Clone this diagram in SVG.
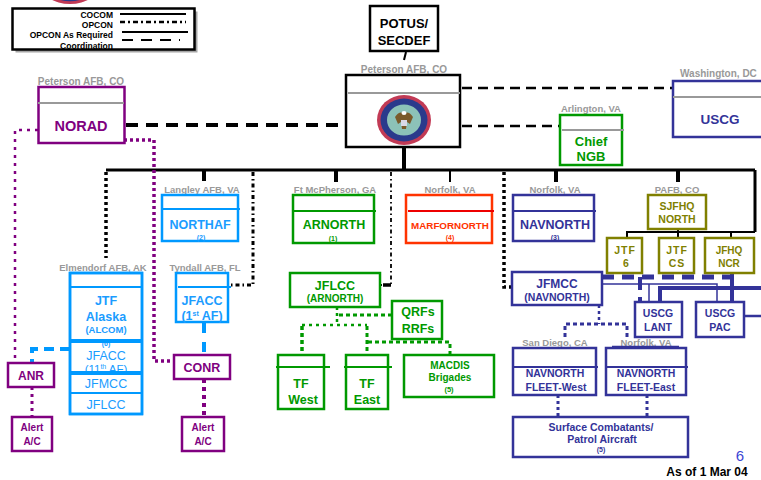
<svg xmlns="http://www.w3.org/2000/svg" width="761" height="480" viewBox="0 0 761 480">
<style>
text{font-family:"Liberation Sans",Arial,sans-serif;font-weight:bold;text-anchor:middle}
.loc{fill:#999;font-size:9.5px}
.box{fill:#fff;stroke-width:2.5}
.blk{stroke:#000}
.pur{stroke:#800080}.tpur{fill:#800080}
.lb{stroke:#0099ff}.tlb{fill:#1a9cff}
.grn{stroke:#009900}.tgrn{fill:#009900}
.red{stroke:#ff3300}.tred{fill:#ff3300}
.nav{stroke:#333399}.tnav{fill:#333399}
.olv{stroke:#808000}.tolv{fill:#808000}
.div{stroke-width:2}
.gdiv{stroke:#999;stroke-width:2}
.c{fill:none}
</style>
<defs>
<g id="sealart">
<ellipse rx="27" ry="25" fill="#c23a55"/>
<ellipse rx="23.5" ry="21.5" fill="#2a3a8c"/>
<ellipse rx="17" ry="15.5" fill="#8cc2b8"/>
<path d="M-9,-3 Q-4,-10 0,-6 Q4,-10 9,-3 L6,4 L3,2 L2,9 L-2,9 L-3,2 L-6,4 Z" fill="#7a5a2a"/>
<ellipse cy="-7" rx="2.5" ry="2" fill="#fff"/>
<rect x="-3" y="0" width="6" height="6" fill="#d9d9e8"/>
</g>
</defs>
<rect width="761" height="480" fill="#fff"/>

<g id="top-seal"><use href="#sealart" transform="translate(70,-16) scale(1.1,0.8)"/></g>

<g id="legend">
<rect x="15.5" y="11.5" width="182" height="41" fill="#a6a6a6"/>
<rect x="12.5" y="8.5" width="182" height="41" fill="#fff"/>
<text x="113" y="17.5" style="font-size:8.5px;text-anchor:end">COCOM</text>
<text x="113" y="27.5" style="font-size:8.5px;text-anchor:end">OPCON</text>
<text x="113" y="37.5" style="font-size:8.5px;text-anchor:end">OPCON As Required</text>
<text x="113" y="48.5" style="font-size:8.5px;text-anchor:end">Coordination</text>
<line x1="120" y1="14" x2="186" y2="14" stroke="#000" stroke-width="2"/>
<line x1="120" y1="22" x2="186" y2="22" stroke="#000" stroke-width="2.5" stroke-dasharray="5,3,2,3"/>
<line x1="122" y1="32" x2="188" y2="32" stroke="#000" stroke-width="2"/>
<line x1="122" y1="40" x2="180" y2="40" stroke="#000" stroke-width="2" stroke-dasharray="11,8"/>
<rect x="12.5" y="8.5" width="182" height="41" fill="none" stroke="#000" stroke-width="2.5"/>
</g>

<g id="connectors" fill="none">
<line x1="406" y1="52" x2="404" y2="60" stroke="#000" stroke-width="2"/>
<line x1="126" y1="125" x2="345" y2="125" stroke="#000" stroke-width="4" stroke-dasharray="12,8"/>
<line x1="462" y1="126" x2="559" y2="126" stroke="#000" stroke-width="2.5" stroke-dasharray="10,6"/>
<line x1="462" y1="88" x2="673" y2="88" stroke="#000" stroke-width="2.5" stroke-dasharray="10,6"/>
<line x1="404" y1="147" x2="404" y2="170" stroke="#000" stroke-width="4"/>
<line x1="106" y1="170" x2="755" y2="170" stroke="#000" stroke-width="3"/>
<line x1="204" y1="170" x2="204" y2="181" stroke="#000" stroke-width="4"/>
<line x1="336" y1="170" x2="336" y2="182" stroke="#000" stroke-width="4"/>
<line x1="450" y1="170" x2="450" y2="182" stroke="#000" stroke-width="2"/>
<line x1="556" y1="170" x2="556" y2="182" stroke="#000" stroke-width="4"/>
<line x1="678" y1="170" x2="678" y2="182" stroke="#000" stroke-width="4"/>
<line x1="755" y1="170" x2="755" y2="232" stroke="#000" stroke-width="3"/>
<polyline points="627,238 627,232 755,232" stroke="#000" stroke-width="2"/>
<line x1="678" y1="229" x2="678" y2="238" stroke="#000" stroke-width="2"/>
<line x1="731" y1="232" x2="731" y2="238" stroke="#000" stroke-width="2"/>
<line x1="106" y1="172" x2="106" y2="258" stroke="#000" stroke-width="3.5" stroke-dasharray="3,3"/>
<polyline points="253,172 253,285 230,285" stroke="#000" stroke-width="3" stroke-dasharray="4,3,1.5,3"/>
<polyline points="391,172 391,285 381,285" stroke="#000" stroke-width="1.8" stroke-dasharray="4,3,1.5,3"/>
<line x1="383" y1="285" x2="391" y2="285" stroke="#000" stroke-width="3.5"/>
<polyline points="504,172 504,287 511,287" stroke="#000" stroke-width="3.5" stroke-dasharray="3,3"/>
<polyline points="38,130 15,130 15,363" stroke="#800080" stroke-width="2.5" stroke-dasharray="3,5"/>
<polyline points="124,140 154,140 154,361 174,361" stroke="#800080" stroke-width="3.5" stroke-dasharray="3,3"/>
<line x1="32" y1="387" x2="32" y2="417" stroke="#800080" stroke-width="3" stroke-dasharray="3,4"/>
<line x1="204" y1="379" x2="204" y2="417" stroke="#800080" stroke-width="4" stroke-dasharray="4,4"/>
<polyline points="70,349 32,349 32,363" stroke="#0099ff" stroke-width="4" stroke-dasharray="10,6"/>
<line x1="204" y1="323" x2="204" y2="355" stroke="#0099ff" stroke-width="4" stroke-dasharray="10,9"/>
<polyline points="337,307 337,325" stroke="#009900" stroke-width="2.5" stroke-dasharray="3,3"/>
<line x1="302" y1="325" x2="367" y2="325" stroke="#009900" stroke-width="2.5" stroke-dasharray="3,4"/>
<line x1="302" y1="326" x2="302" y2="355" stroke="#009900" stroke-width="3.5" stroke-dasharray="4,3"/>
<line x1="367" y1="326" x2="367" y2="355" stroke="#009900" stroke-width="3" stroke-dasharray="4,3"/>
<line x1="339" y1="315" x2="392" y2="315" stroke="#009900" stroke-width="3" stroke-dasharray="4,3"/>
<polyline points="368,342 450,342 450,355" stroke="#009900" stroke-width="3" stroke-dasharray="4,3"/>
<line x1="599" y1="305" x2="599" y2="324" stroke="#333399" stroke-width="2.5" stroke-dasharray="3,3"/>
<polyline points="565,337 565,324 627,324 627,337" stroke="#333399" stroke-width="3" stroke-dasharray="4,3"/>
<line x1="558" y1="395" x2="558" y2="417" stroke="#333399" stroke-width="3" stroke-dasharray="3,3"/>
<line x1="647" y1="395" x2="647" y2="417" stroke="#333399" stroke-width="3" stroke-dasharray="3,3"/>
<line x1="602" y1="277" x2="731" y2="277" stroke="#333399" stroke-width="5" stroke-dasharray="12,8"/>
<polyline points="602,284 717,284 717,302" stroke="#333399" stroke-width="1.5"/>
<line x1="649" y1="284" x2="649" y2="302" stroke="#333399" stroke-width="1.5"/>
<line x1="640" y1="277" x2="640" y2="302" stroke="#333399" stroke-width="4" stroke-dasharray="13,7"/>
<polyline points="660,302 660,288 761,288" stroke="#333399" stroke-width="4"/>
<line x1="732" y1="273" x2="732" y2="302" stroke="#333399" stroke-width="4"/>
<line x1="744" y1="316" x2="761" y2="316" stroke="#333399" stroke-width="2.5"/>
</g>

<g id="potus">
<rect x="370" y="6" width="68" height="45" class="box blk"/>
<text x="404" y="28" style="font-size:13px">POTUS/</text>
<text x="404" y="45" style="font-size:13px">SECDEF</text>
</g>

<g id="norad">
<text x="81" y="85" class="loc" style="font-size:10px">Peterson AFB, CO</text>
<rect x="38.5" y="87" width="86" height="56" class="box pur"/>
<line x1="38" y1="103" x2="124" y2="103" class="gdiv"/>
<text x="81" y="131" class="tpur" style="font-size:14.5px">NORAD</text>
</g>

<g id="usnorthcom">
<text x="404" y="73" class="loc" style="font-size:10px">Peterson AFB, CO</text>
<rect x="346" y="75" width="114" height="72" class="box blk"/>
<line x1="348" y1="93" x2="460" y2="93" class="gdiv"/>
<use href="#sealart" transform="translate(404,120)"/>
</g>

<g id="chief-ngb">
<text x="591" y="112" class="loc">Arlington, VA</text>
<rect x="560" y="115" width="62" height="50" class="box grn"/>
<line x1="562" y1="130" x2="624" y2="130" class="gdiv"/>
<text x="591" y="146" class="tgrn" style="font-size:13px">Chief</text>
<text x="591" y="161" class="tgrn" style="font-size:13px">NGB</text>
</g>

<g id="uscg">
<text x="680" y="77" class="loc" style="text-anchor:start;font-size:10px">Washington, DC</text>
<rect x="673" y="81" width="100" height="56" class="box nav"/>
<line x1="673" y1="97" x2="761" y2="97" class="gdiv"/>
<text x="720" y="124" class="tnav" style="font-size:13.5px">USCG</text>
</g>

<g id="northaf">
<text x="202" y="193" class="loc">Langley AFB, VA</text>
<rect x="162" y="195" width="76" height="46" class="box lb"/>
<line x1="162" y1="209" x2="240" y2="209" class="lb div"/>
<text x="200" y="229" class="tlb" style="font-size:12.5px">NORTHAF</text>
<text x="201" y="240" class="tlb" style="font-size:7px">(2)</text>
</g>

<g id="arnorth">
<text x="335" y="193" class="loc">Ft McPherson, GA</text>
<rect x="293" y="195" width="81" height="48" class="box grn"/>
<line x1="293" y1="211" x2="376" y2="211" class="grn div"/>
<text x="334" y="229" class="tgrn" style="font-size:12.5px">ARNORTH</text>
<text x="333" y="241" class="tgrn" style="font-size:7px">(1)</text>
</g>

<g id="marfornorth">
<text x="450" y="193" class="loc">Norfolk, VA</text>
<rect x="406" y="195" width="86" height="48" class="box red"/>
<line x1="408" y1="211" x2="494" y2="211" class="red div" style="stroke:#ee0000"/>
<text x="450" y="229" class="tred" style="font-size:9.8px">MARFORNORTH</text>
<text x="450" y="240" class="tred" style="font-size:7px">(4)</text>
</g>

<g id="navnorth">
<text x="555" y="193" class="loc">Norfolk, VA</text>
<rect x="513" y="195" width="81" height="46" class="box nav"/>
<line x1="513" y1="211" x2="596" y2="211" class="nav div"/>
<text x="555" y="229" class="tnav" style="font-size:12.5px">NAVNORTH</text>
<text x="555" y="240" class="tnav" style="font-size:7px">(3)</text>
</g>

<g id="sjfhq">
<text x="677" y="193" class="loc">PAFB, CO</text>
<rect x="648" y="195" width="58" height="34" class="box olv"/>
<text x="677" y="210" class="tolv" style="font-size:10.5px">SJFHQ</text>
<text x="677" y="223" class="tolv" style="font-size:10.5px">NORTH</text>
</g>

<g id="jtf6">
<rect x="607" y="238" width="35" height="35" class="box olv"/>
<text x="625" y="254" class="tolv" style="font-size:10.5px;letter-spacing:1px">JTF</text>
<text x="626" y="267" class="tolv" style="font-size:10.5px">6</text>
</g>
<g id="jtfcs">
<rect x="659" y="238" width="35" height="35" class="box olv"/>
<text x="677" y="254" class="tolv" style="font-size:10.5px;letter-spacing:1px">JTF</text>
<text x="677" y="267" class="tolv" style="font-size:10.5px;letter-spacing:1px">CS</text>
</g>
<g id="jfhqncr">
<rect x="705" y="238" width="49" height="35" class="box olv"/>
<text x="729" y="254" class="tolv" style="font-size:10px">JFHQ</text>
<text x="729" y="267" class="tolv" style="font-size:10px">NCR</text>
</g>

<g id="jtf-alaska">
<text x="103" y="271" class="loc">Elmendorf AFB, AK</text>
<rect x="70" y="273" width="72" height="141" class="box lb"/>
<line x1="70" y1="287" x2="143" y2="287" class="lb div"/>
<text x="106" y="305" class="tlb" style="font-size:12.5px">JTF</text>
<text x="106" y="321" class="tlb" style="font-size:12.5px">Alaska</text>
<text x="106" y="333" class="tlb" style="font-size:9.5px">(ALCOM)</text>
<text x="106" y="346" class="tlb" style="font-size:7px">(6)</text>
<text x="106" y="360" class="tlb" style="font-size:12.5px;font-weight:normal">JFACC</text>
<text x="106" y="373" class="tlb" style="font-size:11.5px;font-weight:normal">(11<tspan dy="-4" style="font-size:7px">th</tspan><tspan dy="4"> AF)</tspan></text>
<text x="106" y="388" class="tlb" style="font-size:12.5px;font-weight:normal">JFMCC</text>
<text x="106" y="409" class="tlb" style="font-size:12.5px;font-weight:normal">JFLCC</text>
<line x1="70" y1="341" x2="142" y2="341" class="lb" stroke-width="4"/>
<line x1="70" y1="373" x2="142" y2="373" class="lb" stroke-width="4"/>
<line x1="70" y1="393" x2="142" y2="393" class="lb" stroke-width="2"/>
<rect x="70" y="273" width="72" height="141" class="lb" fill="none" stroke-width="2.5"/>
</g>

<g id="jfacc-1af">
<text x="205" y="271" class="loc">Tyndall AFB, FL</text>
<rect x="176" y="273" width="52" height="49" class="box lb"/>
<line x1="178" y1="287" x2="231" y2="287" class="lb div"/>
<text x="202" y="305" class="tlb" style="font-size:12.5px">JFACC</text>
<text x="202" y="320" class="tlb" style="font-size:12.5px">(1<tspan dy="-4" style="font-size:7px">st</tspan><tspan dy="4"> AF)</tspan></text>
</g>

<g id="anr">
<rect x="8" y="363" width="46" height="24" class="box pur"/>
<text x="31" y="380" class="tpur" style="font-size:12px">ANR</text>
</g>
<g id="alert-anr">
<rect x="12" y="417" width="40" height="34" class="box pur"/>
<text x="32" y="431" class="tpur" style="font-size:10px">Alert</text>
<text x="32" y="445" class="tpur" style="font-size:10px">A/C</text>
</g>
<g id="conr">
<rect x="174" y="355" width="56" height="24" class="box pur"/>
<text x="202" y="372" class="tpur" style="font-size:12.5px">CONR</text>
</g>
<g id="alert-conr">
<rect x="182" y="417" width="42" height="34" class="box pur"/>
<text x="203" y="431" class="tpur" style="font-size:10px">Alert</text>
<text x="203" y="445" class="tpur" style="font-size:10px">A/C</text>
</g>

<g id="jflcc">
<rect x="290" y="273" width="90" height="34" class="box grn"/>
<text x="335" y="290" class="tgrn" style="font-size:12.5px">JFLCC</text>
<text x="335" y="302" class="tgrn" style="font-size:10px">(ARNORTH)</text>
</g>
<g id="qrfs">
<rect x="392" y="301" width="50" height="38" class="box grn"/>
<text x="418" y="316" class="tgrn" style="font-size:12.5px">QRFs</text>
<text x="418" y="333" class="tgrn" style="font-size:12.5px">RRFs</text>
</g>
<g id="tf-west">
<rect x="278" y="355" width="46" height="54" class="box grn"/>
<line x1="276" y1="367" x2="330" y2="367" class="grn div"/>
<text x="301" y="388" class="tgrn" style="font-size:12.5px">TF</text>
<text x="303" y="404" class="tgrn" style="font-size:12.5px">West</text>
</g>
<g id="tf-east">
<rect x="346" y="355" width="42" height="54" class="box grn"/>
<line x1="344" y1="367" x2="392" y2="367" class="grn div"/>
<text x="367" y="388" class="tgrn" style="font-size:12.5px">TF</text>
<text x="367" y="404" class="tgrn" style="font-size:12.5px">East</text>
</g>
<g id="macdis">
<rect x="404" y="355" width="90" height="42" class="box grn"/>
<text x="450" y="369" class="tgrn" style="font-size:10px">MACDIS</text>
<text x="450" y="381" class="tgrn" style="font-size:10px">Brigades</text>
<text x="449" y="392" class="tgrn" style="font-size:7.5px">(5)</text>
</g>

<g id="jfmcc">
<rect x="512" y="272" width="90" height="33" class="box nav"/>
<text x="557" y="288" class="tnav" style="font-size:12px">JFMCC</text>
<text x="557" y="301" class="tnav" style="font-size:10.5px">(NAVNORTH)</text>
</g>
<g id="uscg-lant">
<rect x="635" y="302" width="47" height="35" class="box nav"/>
<text x="658" y="317" class="tnav" style="font-size:10.5px">USCG</text>
<text x="658" y="331" class="tnav" style="font-size:10.5px">LANT</text>
</g>
<g id="uscg-pac">
<rect x="696" y="302" width="48" height="35" class="box nav"/>
<text x="720" y="317" class="tnav" style="font-size:10.5px">USCG</text>
<text x="720" y="331" class="tnav" style="font-size:10.5px">PAC</text>
</g>
<g id="fleet-west">
<text x="555" y="346" class="loc">San Diego, CA</text>
<rect x="513" y="348" width="83" height="47" class="box nav"/>
<line x1="513" y1="367" x2="598" y2="367" class="nav div"/>
<text x="555" y="377" class="tnav" style="font-size:10.5px">NAVNORTH</text>
<text x="556" y="391" class="tnav" style="font-size:10.5px">FLEET-West</text>
</g>
<g id="fleet-east">
<text x="646" y="346" class="loc">Norfolk, VA</text>
<rect x="606" y="348" width="80" height="47" class="box nav"/>
<line x1="612" y1="347" x2="679" y2="347" class="nav" stroke-width="2.5"/>
<line x1="606" y1="367" x2="688" y2="367" class="nav div"/>
<text x="646" y="377" class="tnav" style="font-size:10.5px">NAVNORTH</text>
<text x="646" y="391" class="tnav" style="font-size:10.5px">FLEET-East</text>
</g>
<g id="surface">
<rect x="513" y="417" width="175" height="40" class="box nav"/>
<text x="601" y="431" class="tnav" style="font-size:10.5px">Surface Combatants/</text>
<text x="602" y="443" class="tnav" style="font-size:10.5px">Patrol  Aircraft</text>
<text x="601" y="452" class="tnav" style="font-size:7px">(5)</text>
</g>

<text x="740" y="461" style="font-size:15px;font-weight:normal;fill:#3b46d4">6</text>
<text x="707" y="476" style="font-size:12px">As of 1 Mar 04</text>
</svg>
